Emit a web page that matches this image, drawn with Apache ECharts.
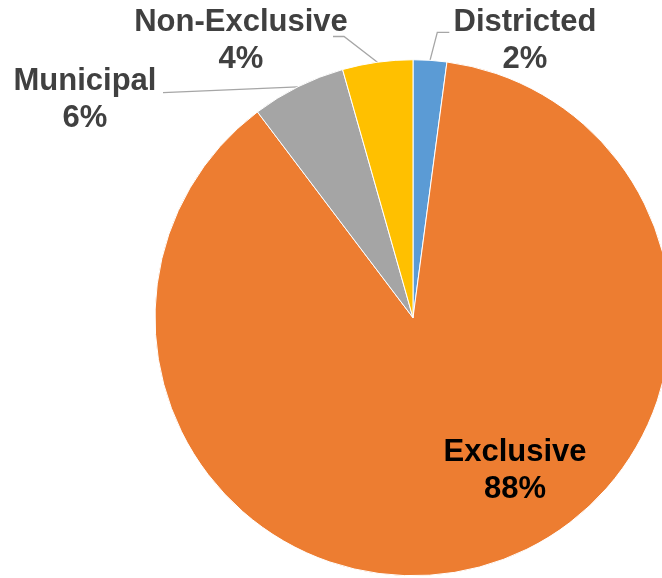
<!DOCTYPE html>
<html>
<head>
<meta charset="utf-8">
<script src="https://cdn.jsdelivr.net/npm/echarts@6/dist/echarts.min.js"></script>
<style>
html,body{margin:0;padding:0;background:#fff;}
#chart{width:662px;height:578px;}
</style>
</head>
<body>
<div id="chart"></div>
<script>
// Data
var categories = ['Districted', 'Exclusive', 'Municipal', 'Non-Exclusive'];
var shares = [2.1, 87.6, 5.9, 4.4];

// Styles
var sliceColors = ['#5B9BD5', '#ED7D31', '#A5A5A5', '#FFC000'];
var labelPlacement = {
  'Districted':    { x: 525, y: 40.5, line: [[437.3, 32.3], [449.3, 32.3]] },
  'Exclusive':     { x: 515, y: 470.5, line: null },
  'Municipal':     { x: 85,  y: 100,  line: [[163, 92.7]] },
  'Non-Exclusive': { x: 241, y: 40.5, line: [[344, 36.5], [333, 36.5]] }
};

var chart = echarts.init(document.getElementById('chart'), null, { renderer: 'canvas' });

var seriesData = categories.map(function (name, i) {
  var item = { name: name, value: shares[i], itemStyle: { color: sliceColors[i] } };
  if (name === 'Exclusive') {
    item.label = { position: 'inside', color: '#000000' };
    item.labelLine = { show: false };
  }
  return item;
});

chart.setOption({
  animation: false,
  series: [{
    type: 'pie',
    center: [413, 317.75],
    radius: 258,
    startAngle: 90,
    clockwise: true,
    avoidLabelOverlap: false,
    silent: true,
    data: seriesData,
    itemStyle: { borderColor: '#ffffff', borderWidth: 1 },
    label: {
      show: true,
      position: 'outside',
      fontFamily: 'Liberation Sans, Arial, sans-serif',
      fontWeight: 'bold',
      fontSize: 31,
      lineHeight: 37,
      color: '#404040',
      align: 'center',
      formatter: function (p) {
        return p.name + '\n' + Math.round(p.percent) + '%';
      }
    },
    labelLine: {
      show: true,
      length: 20,
      length2: 10,
      smooth: false,
      lineStyle: { color: '#A6A6A6', width: 1.3 }
    },
    labelLayout: function (params) {
      var name = categories[params.dataIndex];
      var pl = labelPlacement[name];
      var res = { x: pl.x, y: pl.y, align: 'center', verticalAlign: 'middle' };
      if (pl.line && params.labelLinePoints && params.labelLinePoints.length) {
        res.labelLinePoints = [params.labelLinePoints[0]].concat(pl.line);
      }
      return res;
    }
  }]
});
</script>
</body>
</html>
